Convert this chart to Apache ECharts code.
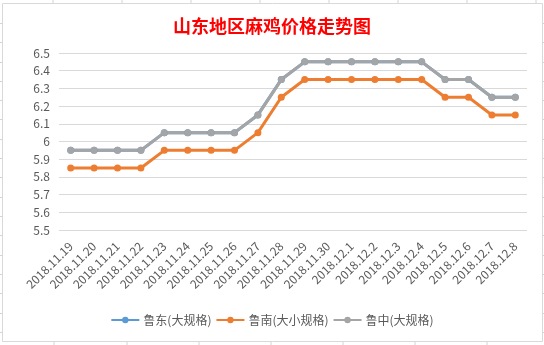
<!DOCTYPE html>
<html><head><meta charset="utf-8">
<script src="https://cdn.jsdelivr.net/npm/echarts@6/dist/echarts.min.js"></script>
<style>html,body{margin:0;padding:0;background:#fff}#c{width:544px;height:345px}</style>
</head><body><div id="c"></div>
<script>
var categories = ['2018.11.19','2018.11.20','2018.11.21','2018.11.22','2018.11.23','2018.11.24','2018.11.25','2018.11.26','2018.11.27','2018.11.28','2018.11.29','2018.11.30','2018.12.1','2018.12.2','2018.12.3','2018.12.4','2018.12.5','2018.12.6','2018.12.7','2018.12.8'];
var ludong = [5.95,5.95,5.95,5.95,6.05,6.05,6.05,6.05,6.15,6.35,6.45,6.45,6.45,6.45,6.45,6.45,6.35,6.35,6.25,6.25];
var lunan = [5.85,5.85,5.85,5.85,5.95,5.95,5.95,5.95,6.05,6.25,6.35,6.35,6.35,6.35,6.35,6.35,6.25,6.25,6.15,6.15];
var luzhong = [5.95,5.95,5.95,5.95,6.05,6.05,6.05,6.05,6.15,6.35,6.45,6.45,6.45,6.45,6.45,6.45,6.35,6.35,6.25,6.25];
var yTicks = [5.5,5.6,5.7,5.8,5.9,6,6.1,6.2,6.3,6.4,6.5];
var names = ['鲁东(大规格)','鲁南(大小规格)','鲁中(大规格)'];
var colors = ['#5B9BD5','#ED7D31','#A5A5A5'];

var chart = echarts.init(document.getElementById('c'));
var font = 'Microsoft YaHei, "Noto Sans CJK SC", sans-serif';
var deco = [];
// spreadsheet cell lines outside the chart box
[53,122,191,260,329,398,467,536].forEach(function(x){
  deco.push({type:'line',shape:{x1:x,y1:0,x2:x,y2:3},style:{stroke:'#d4d4d4',lineWidth:1}});
});
for (var y=23; y<345; y+=19.3){
  deco.push({type:'line',shape:{x1:543,y1:Math.round(y)+0.5,x2:544,y2:Math.round(y)+0.5},style:{stroke:'#d4d4d4',lineWidth:1}});
  deco.push({type:'line',shape:{x1:0,y1:Math.round(y)+0.5,x2:2,y2:Math.round(y)+0.5},style:{stroke:'#d4d4d4',lineWidth:1}});
}
[54,127,199,271,343,415,487].forEach(function(x){
  deco.push({type:'line',shape:{x1:x,y1:342,x2:x,y2:345},style:{stroke:'#d4d4d4',lineWidth:1}});
});
deco.push({type:'rect',shape:{x:2.5,y:3.5,width:540,height:338},style:{fill:'none',stroke:'#d9d9d9',lineWidth:1},z:-1});

chart.setOption({
  animation:false,
  backgroundColor:'#fff',
  color: colors,
  title:{text:'山东地区麻鸡价格走势图',left:'center',top:12,
    textStyle:{color:'#FF0000',fontSize:18,fontWeight:'bold',fontFamily:font}},
  graphic: deco,
  grid:{left:59,right:17,top:53,bottom:115,containLabel:false},
  legend:{bottom:14,left:'center',itemWidth:28,itemHeight:8,itemGap:4,
    textStyle:{color:'#595959',fontSize:12,fontFamily:font,padding:[0,0,0,-1]},
    data:names},
  xAxis:{type:'category',data:categories,boundaryGap:true,
    axisLine:{show:false},axisTick:{show:false},
    axisLabel:{rotate:45,interval:0,color:'#595959',fontSize:12,margin:14,fontFamily:font}},
  yAxis:{type:'value',min:5.5,max:6.5,interval:0.1,
    axisLine:{show:false},axisTick:{show:false},
    splitLine:{lineStyle:{color:'#d9d9d9',width:1}},
    axisLabel:{color:'#595959',fontSize:12,margin:9,fontFamily:font,
      formatter:function(v){var r=Math.round(v*10)/10;return String(r);}}},
  series:[
    {name:names[0],type:'line',data:ludong,symbol:'circle',symbolSize:7,lineStyle:{width:3},itemStyle:{color:colors[0]}},
    {name:names[1],type:'line',data:lunan,symbol:'circle',symbolSize:7,lineStyle:{width:3},itemStyle:{color:colors[1]}},
    {name:names[2],type:'line',data:luzhong,symbol:'circle',symbolSize:7,lineStyle:{width:3},itemStyle:{color:colors[2]}}
  ]
});
</script></body></html>
